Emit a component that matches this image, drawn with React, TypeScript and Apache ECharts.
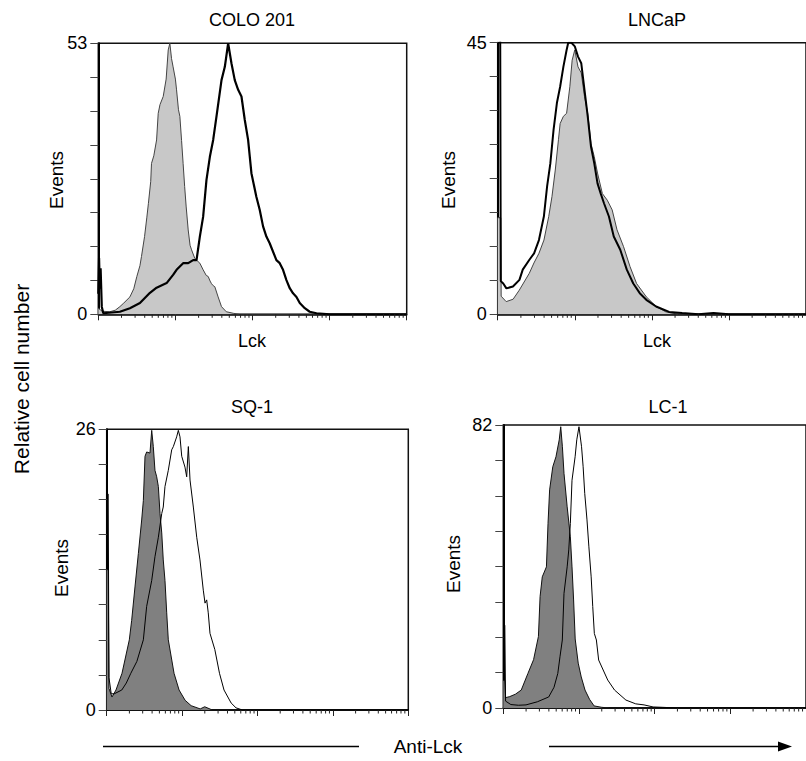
import React, { useEffect, useRef } from "react";
import * as echarts from "echarts";

// x values are log10 of the fluorescence channel (4 decades), y values are event counts
const panelTitles = ["COLO 201", "LNCaP", "SQ-1", "LC-1"];
const panelXLabels = ["Lck", "Lck", "", ""];
const yMaxValues = [53, 45, 26, 82];

const colo201Control: number[][] = [
  [0, 1.2], [0.05, 0.6], [0.15, 0.5], [0.22, 0.8], [0.28, 1.5], [0.33, 2.2], [0.41, 3.4], [0.46, 5],
  [0.5, 7.4], [0.54, 9.5], [0.56, 11.3], [0.6, 15.2], [0.63, 19], [0.65, 21.7], [0.68, 26], [0.69, 29.5],
  [0.72, 31], [0.756, 34.1], [0.777, 39.3], [0.8, 41], [0.842, 42.6], [0.88, 46], [0.907, 51.7], [0.928, 53],
  [0.95, 50], [0.97, 48.4], [1.0, 46], [1.015, 43.9], [1.04, 40], [1.058, 38.7], [1.08, 34], [1.1, 29.5],
  [1.12, 25], [1.14, 21], [1.166, 16.5], [1.19, 13.5], [1.21, 12.6], [1.25, 11], [1.274, 10.6], [1.317, 10],
  [1.36, 8.7], [1.4, 7.6], [1.425, 7.4], [1.45, 6.5], [1.468, 6], [1.49, 5.6], [1.511, 5.4], [1.554, 3.4],
  [1.598, 1.5], [1.66, 0.5], [1.75, 0.2], [1.835, 0], [4, 0],
];
const colo201Lck: number[][] = [
  [0, 4], [0.01, 11], [0.02, 5], [0.03, 9], [0.045, 1.5], [0.065, 0.2], [0.28, 0.5], [0.41, 1.2],
  [0.54, 2.2], [0.67, 4.2], [0.756, 5.2], [0.886, 6.1], [0.97, 7.7], [1.015, 8.7], [1.1, 10], [1.166, 10],
  [1.23, 10.6], [1.274, 10.6], [1.317, 15.2], [1.36, 19.1], [1.403, 26.3], [1.447, 30.8], [1.49, 34.1],
  [1.533, 38.7], [1.598, 45.8], [1.641, 48.4], [1.684, 53], [1.727, 49.1], [1.77, 45.8], [1.814, 43.9],
  [1.857, 42.6], [1.9, 38], [1.943, 34.1], [1.986, 27.6], [2.05, 23], [2.094, 20.4], [2.137, 17.2],
  [2.18, 15.2], [2.223, 13.9], [2.31, 10.6], [2.353, 10], [2.396, 8.7], [2.44, 6.7], [2.483, 5.1],
  [2.526, 4.1], [2.57, 3.4], [2.613, 2.2], [2.678, 1.2], [2.742, 0.5], [2.83, 0.2], [3.0, 0], [4, 0],
];

const lncapControl: number[][] = [
  [0, 16], [0.04, 16], [0.045, 3], [0.11, 2.1], [0.2, 2.5], [0.28, 4], [0.41, 6.8], [0.47, 8.5],
  [0.535, 10.1], [0.6, 12.3], [0.662, 16.2], [0.704, 19.5], [0.747, 23.9], [0.789, 29], [0.81, 31.6],
  [0.852, 32.8], [0.894, 33.3], [0.936, 37.7], [0.966, 42.1], [1.0, 43.8], [1.042, 41], [1.084, 40],
  [1.126, 36.1], [1.168, 33.3], [1.21, 28.3], [1.253, 26.1], [1.295, 23.4], [1.358, 20], [1.422, 18.9],
  [1.485, 17.3], [1.548, 14], [1.633, 11.2], [1.717, 7.9], [1.802, 5.1], [1.928, 2.9], [2.055, 1.3],
  [2.182, 0.4], [2.35, 0], [4, 0],
];
const lncapLck: number[][] = [
  [0, 60], [0.03, 60], [0.04, 5.5], [0.072, 5.1], [0.113, 4.3], [0.198, 4.6], [0.282, 5.7], [0.325, 7.4],
  [0.409, 9], [0.472, 10.1], [0.535, 12.3], [0.599, 16.2], [0.641, 21.2], [0.683, 25], [0.725, 30.6],
  [0.768, 35], [0.81, 37.7], [0.852, 41], [0.894, 43.8], [0.915, 45], [0.957, 45], [1.0, 44.4],
  [1.042, 42.7], [1.084, 41.6], [1.126, 37.2], [1.168, 32.8], [1.21, 27.8], [1.253, 25], [1.295, 21.7],
  [1.337, 20], [1.379, 18.4], [1.443, 16.2], [1.506, 12.9], [1.59, 10.7], [1.675, 7.4], [1.759, 5.1],
  [1.843, 3.5], [1.928, 2.4], [2.055, 1.3], [2.224, 0.4], [2.393, 0.2], [2.604, 0], [2.8, 0.2], [3.0, 0], [4, 0],
];

const sq1Control: number[][] = [
  [0, 13], [0.02, 13], [0.03, 2], [0.07, 1.2], [0.123, 1.85], [0.203, 3.4], [0.3, 6.5], [0.331, 8.3],
  [0.375, 11.4], [0.42, 14.5], [0.464, 17.6], [0.486, 19.4], [0.508, 23.5], [0.53, 23.9], [0.574, 23.8],
  [0.597, 25.9], [0.618, 24.4], [0.64, 22.2], [0.663, 21.6], [0.685, 20.7], [0.707, 18.2], [0.73, 16.4],
  [0.75, 13.9], [0.773, 12], [0.796, 9], [0.817, 6.5], [0.893, 3.4], [0.96, 1.85], [1.04, 0.9],
  [1.12, 0.4], [1.24, 0.1], [1.3, 0.3], [1.4, 0], [4, 0],
];
const sq1Lck: number[][] = [
  [0, 20], [0.02, 20], [0.03, 3], [0.06, 1.5], [0.1, 1.5], [0.2, 1.85], [0.26, 2.5], [0.32, 3.4],
  [0.4, 4.5], [0.486, 6.5], [0.53, 9.6], [0.597, 12], [0.64, 14.2], [0.685, 16], [0.73, 18.2], [0.75, 18.8],
  [0.773, 20.7], [0.817, 22.2], [0.862, 24.1], [0.884, 24.4], [0.928, 25.3], [0.95, 25.9], [0.972, 25.3],
  [0.995, 23.5], [1.038, 22.5], [1.061, 21.6], [1.083, 24.4], [1.105, 21.3], [1.149, 18.8], [1.194, 16],
  [1.237, 13.9], [1.281, 11.1], [1.304, 9.9], [1.326, 10.2], [1.347, 9], [1.37, 7.1], [1.434, 5.6],
  [1.496, 3.4], [1.556, 1.85], [1.65, 0.65], [1.715, 0.2], [1.8, 0], [4, 0],
];

const lc1Control: number[][] = [
  [0, 8], [0.02, 8], [0.03, 3], [0.085, 3.3], [0.16, 4], [0.237, 5.2], [0.325, 10], [0.4, 14],
  [0.464, 20.7], [0.486, 32.3], [0.515, 38], [0.57, 40.9], [0.591, 53.5], [0.612, 63.2], [0.654, 69.9],
  [0.696, 72.8], [0.739, 77.7], [0.759, 81.5], [0.781, 75.7], [0.802, 68], [0.844, 58.3], [0.886, 49.6],
  [0.908, 40.9], [0.929, 31.3], [0.95, 20], [0.99, 13], [1.03, 9], [1.08, 5.2], [1.14, 2.5], [1.2, 0.6],
  [1.3, 0.2], [1.4, 0], [4, 0],
];
const lc1Lck: number[][] = [
  [0, 24], [0.02, 24], [0.03, 2], [0.1, 1], [0.2, 0.8], [0.3, 0.9], [0.45, 1.8], [0.6, 3.2], [0.67, 6],
  [0.72, 10], [0.75, 15], [0.78, 19.7], [0.802, 33.2], [0.844, 40.9], [0.865, 45.8], [0.886, 53.5],
  [0.908, 66], [0.949, 72.8], [0.971, 77.7], [1.0, 81.5], [1.034, 75.7], [1.055, 69.9], [1.076, 62.2],
  [1.106, 54.5], [1.131, 46.7], [1.161, 38], [1.182, 29.4], [1.203, 21.6], [1.23, 19.7], [1.26, 13.9],
  [1.38, 8.1], [1.47, 5.2], [1.62, 2.3], [1.75, 1.2], [1.86, 0.9], [1.98, 0.3], [2.1, 0.2], [2.3, 0], [4, 0],
];

const controlData = [colo201Control, lncapControl, sq1Control, lc1Control];
const lckData = [colo201Lck, lncapLck, sq1Lck, lc1Lck];

// minor log ticks: positions of 2..9 within each of the 4 decades
const decades = [0, 1, 2, 3];
const minorMultipliers = [2, 3, 4, 5, 6, 7, 8, 9];

const FONT = "'Liberation Sans', Arial, Helvetica, sans-serif";

export default function App() {
  const ref = useRef<HTMLDivElement>(null);
  useEffect(() => {
    if (!ref.current) return;
    const chart = echarts.init(ref.current, undefined, { renderer: "svg" });

    const grids = [
      { left: 98.3, top: 43.3, width: 308.4, height: 271 },
      { left: 497.7, top: 42.7, width: 316, height: 271.6 },
      { left: 106.7, top: 429.3, width: 301.6, height: 280.7 },
      { left: 503.3, top: 425, width: 316, height: 283 },
    ];
    const controlFill = ["#c8c8c8", "#c8c8c8", "#808080", "#808080"];
    const controlLine = ["#444", "#444", "#111", "#111"];
    const lckWidth = [2.2, 2, 1, 1];

    const minorTicks: number[][] = [];
    decades.forEach((d) => minorMultipliers.forEach((m) => minorTicks.push([d + Math.log10(m)])));

    const series: any[] = [];
    grids.forEach((_, i) => {
      series.push({
        type: "line",
        xAxisIndex: i,
        yAxisIndex: i,
        data: controlData[i],
        symbol: "none",
        lineStyle: { color: controlLine[i], width: 1 },
        areaStyle: { color: controlFill[i], opacity: 1, origin: "start" },
        z: 2,
        silent: true,
      });
      series.push({
        type: "line",
        xAxisIndex: i,
        yAxisIndex: i,
        data: lckData[i],
        symbol: "none",
        lineStyle: { color: "#000", width: lckWidth[i] },
        z: 3,
        silent: true,
      });
      series.push({
        type: "custom",
        xAxisIndex: i,
        yAxisIndex: i,
        data: minorTicks,
        silent: true,
        z: 4,
        renderItem: (_p: any, api: any) => {
          const pt = api.coord([api.value(0), 0]);
          return {
            type: "line",
            shape: { x1: pt[0], y1: pt[1], x2: pt[0], y2: pt[1] + 3.5 },
            style: { stroke: "#222", lineWidth: 1 },
          };
        },
      });
    });

    const textStyle = (text: string, x: number, y: number, size: number, rot = 0) => ({
      type: "text",
      x,
      y,
      rotation: rot,
      style: {
        text,
        font: `${size}px ${FONT}`,
        fill: "#000",
        textAlign: "center",
        textVerticalAlign: "middle",
      },
      silent: true,
    });

    const titlePos = [
      [252, 20],
      [657, 20],
      [252, 407],
      [668, 407],
    ];
    const eventsPos = [
      [56, 180],
      [448, 180],
      [61, 568],
      [453, 564],
    ];

    const graphic: any[] = [];
    panelTitles.forEach((t, i) => graphic.push(textStyle(t, titlePos[i][0], titlePos[i][1], 18)));
    eventsPos.forEach((p) => graphic.push(textStyle("Events", p[0], p[1], 19, Math.PI / 2)));
    graphic.push(textStyle(panelXLabels[0], 252, 341, 18));
    graphic.push(textStyle(panelXLabels[1], 657, 341, 18));
    graphic.push(textStyle("Relative cell number", 21, 379, 21, Math.PI / 2));
    graphic.push(textStyle("Anti-Lck", 428, 746, 19));
    graphic.push({
      type: "line",
      shape: { x1: 103, y1: 746.5, x2: 359, y2: 746.5 },
      style: { stroke: "#000", lineWidth: 1.5 },
      silent: true,
    });
    graphic.push({
      type: "line",
      shape: { x1: 549, y1: 746.5, x2: 782, y2: 746.5 },
      style: { stroke: "#000", lineWidth: 1.5 },
      silent: true,
    });
    graphic.push({
      type: "polygon",
      shape: { points: [[778, 741.5], [792, 746.5], [778, 751.5]] },
      style: { fill: "#000" },
      silent: true,
    });

    chart.setOption({
      animation: false,
      backgroundColor: "#fff",
      grid: grids.map((g) => ({
        ...g,
        show: true,
        borderColor: "#111",
        borderWidth: 1.5,
        backgroundColor: "transparent",
        containLabel: false,
      })),
      xAxis: grids.map((_, i) => ({
        type: "value",
        gridIndex: i,
        min: 0,
        max: 4,
        interval: 1,
        axisLine: { show: true, lineStyle: { color: "#000", width: 1.5 } },
        axisTick: { show: true, length: 6, lineStyle: { color: "#222", width: 1 } },
        axisLabel: { show: false },
        splitLine: { show: false },
      })),
      yAxis: grids.map((_, i) => {
        const m = yMaxValues[i];
        return {
          type: "value",
          gridIndex: i,
          min: 0,
          max: m,
          interval: m / 8,
          axisLine: { show: true, lineStyle: { color: "#000", width: 2 } },
          axisTick: { show: true, length: 8, lineStyle: { color: "#444", width: 1 } },
          axisLabel: {
            show: true,
            margin: 11,
            fontSize: 18,
            fontFamily: FONT,
            color: "#000",
            formatter: (v: number) => (v === 0 ? "0" : Math.abs(v - m) < 1e-6 ? String(m) : ""),
          },
          splitLine: { show: false },
        };
      }),
      series,
      graphic,
    });

    return () => chart.dispose();
  }, []);

  return (
    <div
      ref={ref}
      style={{ position: "absolute", left: 0, top: 0, width: 806, height: 761, background: "#fff" }}
    />
  );
}
